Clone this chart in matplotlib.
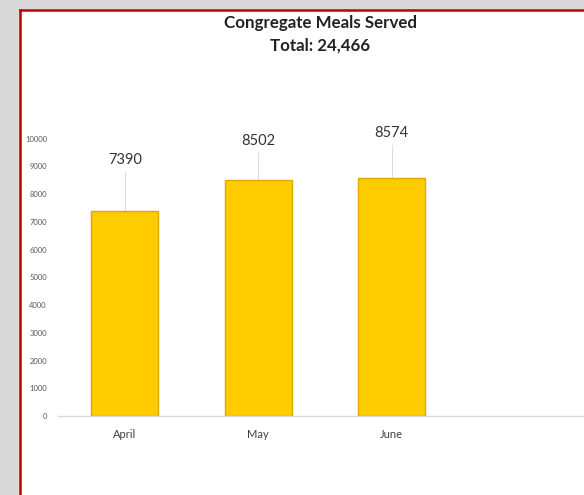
import matplotlib
matplotlib.use('Agg')
import matplotlib.pyplot as plt
from matplotlib.patches import Rectangle

months = ['April', 'May', 'June', '']
meals = [7390, 8502, 8574, 0]
# where each data label sits (in data units) above its bar
label_y = [9240, 9930, 10220]
yticks = list(range(0, 10001, 1000))

plt.rcParams['font.family'] = ['Lato', 'DejaVu Sans']

fig = plt.figure(figsize=(5.84, 4.95), dpi=100)
fig.patch.set_facecolor('#d9d9d9')

# white chart panel with red left/top edge
panel = Rectangle((20 / 584, 0), 1.0, 1 - 10 / 495,
                  transform=fig.transFigure, facecolor='white',
                  edgecolor='none', zorder=-10)
fig.patches.append(panel)
fig.add_artist(plt.Line2D([20 / 584, 20 / 584], [0, 1 - 10 / 495],
                          color='#c00000', lw=1.8, transform=fig.transFigure))
fig.add_artist(plt.Line2D([20 / 584, 1.0], [1 - 10 / 495, 1 - 10 / 495],
                          color='#c00000', lw=1.8, transform=fig.transFigure))

ax = fig.add_axes([58 / 584, 1 - 416 / 495, 526 / 584, 305 / 495])
ax.set_facecolor('none')
ax.set_zorder(5)

x = list(range(len(months)))
ax.bar(x[:3], meals[:3], width=0.5, color='#ffcc00', edgecolor='#e0a800',
       linewidth=1.0, zorder=3)

for xi, v, ly in zip(x, meals[:3], label_y):
    ax.plot([xi, xi], [v, ly - 450], color='#d5e0e6', lw=0.8, zorder=2)
    ax.text(xi, ly, str(v), ha='center', va='center', fontsize=10.5,
            color='#333333')

ax.set_xlim(-0.5, -0.5 + 526 / 133.5)
ax.set_ylim(0, 11000)
ax.set_yticks(yticks)
ax.set_yticklabels([str(t) for t in yticks], fontsize=5.5, color='#595959')
ax.set_xticks(x[:3])
ax.set_xticklabels(months[:3], fontsize=8, color='#404040')
ax.tick_params(axis='y', length=0, pad=8)
ax.tick_params(axis='x', length=0, pad=9)

for side in ['left', 'right', 'top']:
    ax.spines[side].set_visible(False)
ax.spines['bottom'].set_color('#d9d9d9')
ax.spines['bottom'].set_linewidth(1.0)

fig.text(320 / 584, 1 - 23 / 495, 'Congregate Meals Served', ha='center',
         va='center', fontsize=12.2, fontweight='bold', color='#222222')
fig.text(320 / 584, 1 - 46 / 495, 'Total: 24,466', ha='center',
         va='center', fontsize=12.2, fontweight='bold', color='#222222')

fig.savefig('out.png', dpi=100, facecolor=fig.get_facecolor())
